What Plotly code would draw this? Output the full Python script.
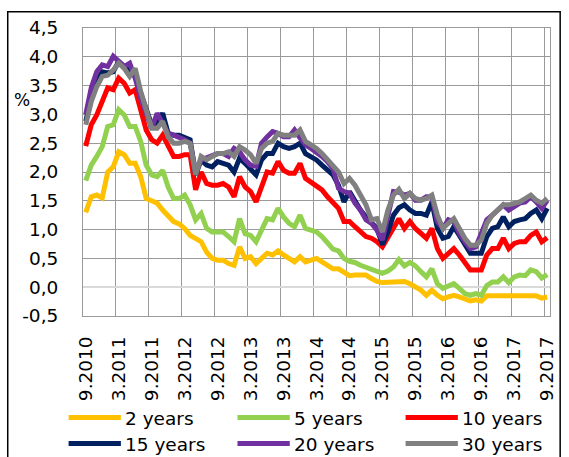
import plotly.graph_objects as go

# Monthly observations, September 2010 to September 2017
months = list(range(85))
tick_pos = list(range(0, 85, 6))
tick_text = ["9.2010", "3.2011", "9.2011", "3.2012", "9.2012", "3.2013", "9.2013",
             "3.2014", "9.2014", "3.2015", "9.2015", "3.2016", "9.2016", "3.2017", "9.2017"]
y_ticks = [-0.5, 0.0, 0.5, 1.0, 1.5, 2.0, 2.5, 3.0, 3.5, 4.0, 4.5]
y_tick_text = ["-0,5", "0,0", "0,5", "1,0", "1,5", "2,0", "2,5", "3,0", "3,5", "4,0", "4,5"]

series_names = ["2 years", "5 years", "10 years", "15 years", "20 years", "30 years"]
series_colors = ["#FFC000", "#92D050", "#FF0000", "#002060", "#7030A0", "#808080"]

y2 = [1.3, 1.57, 1.6, 1.55, 2.0, 2.09, 2.35, 2.3, 2.15, 2.15,
      1.92, 1.54, 1.5, 1.46, 1.34, 1.25, 1.14, 1.1, 1.02, 0.9,
      0.85, 0.79, 0.61, 0.5, 0.47, 0.47, 0.41, 0.38,
      0.7, 0.5, 0.53, 0.41, 0.5, 0.59, 0.56, 0.63, 0.56, 0.5,
      0.44, 0.53, 0.44, 0.47, 0.5, 0.44, 0.37, 0.32, 0.32, 0.27,
      0.2, 0.21, 0.22, 0.21, 0.15, 0.1, 0.08, 0.09, 0.1, 0.11,
      0.1, 0.06, 0.0, -0.05, -0.14, -0.05, -0.14, -0.2, -0.17, -0.14,
      -0.17, -0.2, -0.24, -0.22, -0.24, -0.15, -0.15, -0.15, -0.15, -0.14,
      -0.13, -0.15, -0.15, -0.13, -0.15, -0.19, -0.17]

y5 = [1.85, 2.12, 2.27, 2.44, 2.79, 2.82, 3.08, 2.99, 2.79, 2.79,
      2.53, 2.12, 1.95, 1.92, 2.03, 1.74, 1.54, 1.54, 1.6, 1.43,
      1.17, 1.28, 1.02, 0.96, 0.96, 0.96, 0.88, 0.79,
      1.19, 0.93, 0.9, 0.79, 0.99, 1.19, 1.17, 1.37, 1.22, 1.11,
      1.05, 1.25, 1.02, 0.99, 0.96, 0.88, 0.76, 0.66, 0.63, 0.5,
      0.45, 0.43, 0.38, 0.35, 0.31, 0.27, 0.24, 0.28, 0.35, 0.48,
      0.37, 0.43, 0.37, 0.27, 0.18, 0.32, 0.06, -0.02, 0.03, 0.06,
      -0.02, -0.11, -0.14, -0.11, -0.14, 0.03, 0.09, 0.09, 0.18, 0.08,
      0.18, 0.21, 0.2, 0.3, 0.27, 0.16, 0.22]

y10 = [2.45, 2.82, 2.99, 3.22, 3.46, 3.43, 3.63, 3.54, 3.37, 3.43,
       3.11, 2.73, 2.56, 2.5, 2.64, 2.44, 2.27, 2.27, 2.3, 2.3,
       1.69, 2.0, 1.8, 1.77, 1.77, 1.8, 1.74, 1.57,
       1.92, 1.74, 1.66, 1.48, 1.77, 2.0, 1.98, 2.18, 2.03, 1.98,
       1.98, 2.15, 1.89, 1.83, 1.77, 1.69, 1.57, 1.46, 1.37, 1.14,
       1.14, 1.05, 0.96, 0.88, 0.85, 0.79, 0.7, 0.85, 1.02, 1.19,
       1.02, 1.14, 1.02, 0.93, 0.85, 1.02, 0.67, 0.5, 0.59, 0.67,
       0.56, 0.41, 0.3, 0.3, 0.3, 0.56, 0.67, 0.67, 0.85, 0.67,
       0.76, 0.79, 0.79, 0.9, 0.96, 0.79, 0.86]

y15 = [2.88, 3.28, 3.57, 3.74, 3.72, 3.74, 3.92, 3.83, 3.74, 3.66,
       3.37, 3.11, 2.82, 2.85, 3.02, 2.67, 2.64, 2.64, 2.61, 2.56,
       1.95, 2.21, 2.12, 2.09, 2.18, 2.15, 2.12, 2.0,
       2.24, 2.15, 2.06, 1.95, 2.21, 2.32, 2.32, 2.5, 2.44, 2.41,
       2.44, 2.5, 2.32, 2.27, 2.21, 2.12, 2.03, 1.95, 1.77, 1.48,
       1.66, 1.48, 1.34, 1.22, 1.11, 1.02, 0.74, 0.96, 1.25, 1.38,
       1.43, 1.34, 1.28, 1.28, 1.25, 1.48, 1.02, 0.85, 0.88, 1.05,
       0.9, 0.73, 0.59, 0.59, 0.59, 0.88, 1.02, 1.05, 1.22, 1.05,
       1.14, 1.17, 1.19, 1.28, 1.34, 1.19, 1.37]

y20 = [3.0, 3.46, 3.74, 3.86, 3.83, 4.01, 3.92, 3.83, 3.89, 3.63,
       3.28, 2.99, 2.76, 3.02, 2.82, 2.67, 2.64, 2.61, 2.56, 2.5,
       2.0, 2.21, 2.24, 2.27, 2.32, 2.32, 2.27, 2.41,
       2.35, 2.21, 2.12, 2.1, 2.5, 2.61, 2.7, 2.67, 2.61, 2.61,
       2.73, 2.59, 2.47, 2.41, 2.35, 2.27, 2.18, 2.06, 1.72, 1.66,
       1.63, 1.46, 1.34, 1.17, 1.11, 0.99, 0.82, 1.25, 1.66, 1.65,
       1.6, 1.63, 1.51, 1.51, 1.57, 1.57, 1.14, 1.02, 1.17, 1.14,
       0.93, 0.79, 0.67, 0.7, 0.93, 1.17, 1.25, 1.34, 1.43, 1.34,
       1.4, 1.46, 1.48, 1.57, 1.48, 1.37, 1.51]

y30 = [2.82, 3.22, 3.48, 3.66, 3.68, 3.77, 3.89, 3.8, 3.66, 3.8,
       3.4, 3.08, 2.76, 2.76, 2.88, 2.61, 2.5, 2.5, 2.53, 2.5,
       1.95, 2.27, 2.21, 2.27, 2.32, 2.32, 2.35, 2.27,
       2.44, 2.38, 2.3, 2.15, 2.41, 2.5, 2.53, 2.67, 2.64, 2.64,
       2.64, 2.73, 2.53, 2.47, 2.41, 2.32, 2.21, 2.12, 2.0, 1.8,
       1.89, 1.77, 1.6, 1.43, 1.17, 1.19, 0.96, 1.34, 1.6, 1.7,
       1.54, 1.63, 1.54, 1.51, 1.54, 1.6, 1.25, 1.02, 1.11, 1.19,
       1.02, 0.85, 0.73, 0.73, 0.82, 1.11, 1.25, 1.34, 1.43, 1.43,
       1.46, 1.48, 1.54, 1.6, 1.51, 1.46, 1.54]

series_values = [y2, y5, y10, y15, y20, y30]

W, H = 569, 457
L, R, T, B = 83.3, 12.3, 28.3, 141.3
PW, PH = W - L - R, H - T - B


def px_x(x):
    return (x - L) / PW


def px_y(y):
    return (H - B - y) / PH


FONT = "DejaVu Sans"
FSIZE = 18.5
GRID = "#9a9a9a"

fig = go.Figure()
for name, color, vals in zip(series_names, series_colors, series_values):
    fig.add_trace(go.Scatter(x=months, y=vals, mode="lines", name=name,
                             line=dict(color=color, width=5),
                             showlegend=False))

shapes = [
    # outer frame
    dict(type="rect", xref="paper", yref="paper",
         x0=px_x(7), x1=px_x(567), y0=px_y(470), y1=px_y(12),
         line=dict(color="black", width=1.5), fillcolor="rgba(0,0,0,0)", layer="below"),
]
annotations = [
    # unit label, tucked left of the value labels
    dict(text="%", xref="paper", yref="paper", x=px_x(21), y=px_y(100),
         xanchor="center", yanchor="middle", showarrow=False,
         font=dict(family=FONT, size=FSIZE - 1.5, color="black")),
]

# two-row legend
leg_cols = [68.7, 239.9, 410.3]
leg_rows = [417, 443]
for k, (name, color) in enumerate(zip(series_names, series_colors)):
    cx = leg_cols[k % 3]
    cy = leg_rows[k // 3]
    shapes.append(dict(type="line", xref="paper", yref="paper",
                       x0=px_x(cx), x1=px_x(cx + 53), y0=px_y(cy), y1=px_y(cy),
                       line=dict(color=color, width=5)))
    annotations.append(dict(text=name, xref="paper", yref="paper",
                            x=px_x(cx + 55), y=px_y(cy + 1),
                            xanchor="left", yanchor="middle", showarrow=False,
                            font=dict(family=FONT, size=FSIZE, color="black")))

fig.update_layout(
    width=W, height=H,
    margin=dict(l=L, r=R, t=T, b=B, pad=0),
    paper_bgcolor="white", plot_bgcolor="white",
    font=dict(family=FONT, size=FSIZE, color="black"),
    showlegend=False,
    shapes=shapes,
    annotations=annotations,
    xaxis=dict(
        range=[-0.5, 84.5],
        tickmode="array", tickvals=tick_pos, ticktext=tick_text,
        tickangle=-90, ticks="", showgrid=False, zeroline=False,
        showline=True, linecolor=GRID, linewidth=1, mirror=True,
        ticklabelstandoff=12,
        minor=dict(tickvals=[p - 0.5 for p in tick_pos[1:]],
                   showgrid=True, gridcolor=GRID, gridwidth=1, ticks=""),
    ),
    yaxis=dict(
        range=[-0.5, 4.5],
        tickmode="array", tickvals=y_ticks, ticktext=y_tick_text,
        ticks="", showgrid=True, gridcolor=GRID, gridwidth=1,
        zeroline=True, zerolinecolor="#d9d9d9", zerolinewidth=2,
        showline=True, linecolor=GRID, linewidth=1, mirror=True,
        ticklabelstandoff=20,
    ),
)

fig.write_html("out.html")
